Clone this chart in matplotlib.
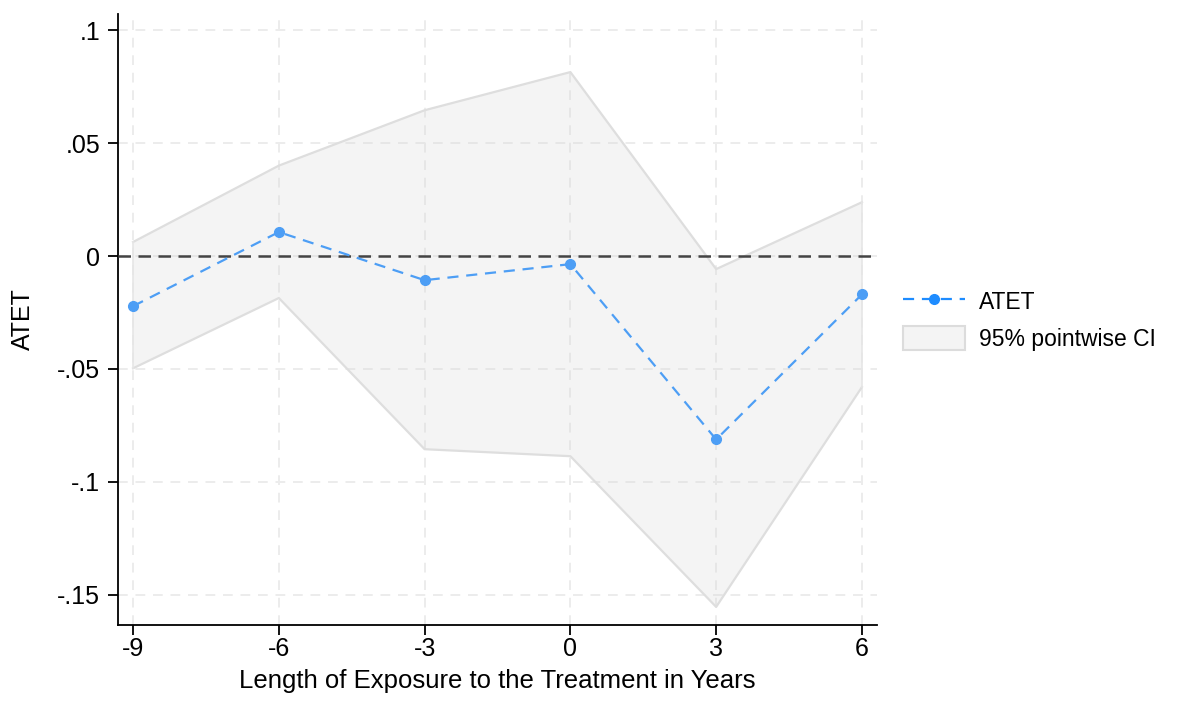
import matplotlib
matplotlib.use("Agg")
import matplotlib.pyplot as plt
from matplotlib.patches import Patch
from matplotlib.lines import Line2D

plt.rcParams['font.family'] = ['Liberation Sans', 'DejaVu Sans']

# data
years = [-9, -6, -3, 0, 3, 6]
atet = [-0.0222, 0.0106, -0.0107, -0.0036, -0.0812, -0.0170]
ci_hi = [0.0062, 0.0400, 0.0645, 0.0814, -0.0058, 0.0238]
ci_lo = [-0.0497, -0.0186, -0.0855, -0.0886, -0.1553, -0.0580]
yticks = [0.1, 0.05, 0, -0.05, -0.1, -0.15]
ylabels = ['.1', '.05', '0', '-.05', '-.1', '-.15']

fig = plt.figure(figsize=(11.8, 7.04), dpi=100)
ax = fig.add_axes([118/1180, 1 - 625/704, (877-118)/1180, (625-14)/704])

ax.fill_between(years, ci_lo, ci_hi, facecolor='#d8d8d8', alpha=0.28,
                edgecolor='none', zorder=2)
ax.plot(years, ci_hi, color='#dedede', lw=1.6, zorder=2.5)
ax.plot(years, ci_lo, color='#dedede', lw=1.6, zorder=2.5)
ax.plot([years[0]]*2, [ci_lo[0], ci_hi[0]], color='#e6e6e6', lw=1.2, zorder=2.5)
ax.plot([years[-1]]*2, [ci_lo[-1], ci_hi[-1]], color='#e6e6e6', lw=1.2, zorder=2.5)

ax.axhline(0, color='#444444', lw=1.8, ls=(0, (5, 3)), zorder=3)
ax.plot(years, atet, color='#4d9ef5', lw=1.6, ls=(0, (5, 3.5)),
        marker='o', ms=7, mec='#4d9ef5', mfc='#4d9ef5', zorder=4)

ax.set_xlim(-9.31, 6.31)
ax.set_ylim(-0.1633, 0.1071)
ax.set_xticks(years)
ax.set_xticklabels([str(y) for y in years])
ax.set_yticks(yticks)
ax.set_yticklabels(ylabels)
ax.grid(True, color='#ececec', lw=1.4, ls=(0, (5, 4)), zorder=0)
ax.set_axisbelow(True)

for s in ['top', 'right']:
    ax.spines[s].set_visible(False)
for s in ['left', 'bottom']:
    ax.spines[s].set_linewidth(1.3)
ax.tick_params(axis='both', length=7.2, width=1.3, labelsize=18)
ax.tick_params(axis='y', pad=5.5)
ax.tick_params(axis='x', pad=1.5)
ax.set_xlabel('Length of Exposure to the Treatment in Years', fontsize=18.5, labelpad=6)
ax.set_ylabel('ATET', fontsize=18, labelpad=16)

handles = [
    Line2D([], [], color='#1e8cff', lw=1.6, ls=(0, (5, 3.5)), marker='o', ms=7),
    Patch(facecolor='#f4f4f4', edgecolor='#dcdcdc', lw=1.5),
]
fig.legend(handles, ['ATET', '95% pointwise CI'], loc='center left',
           bbox_to_anchor=(882/1180, 1 - 320/704), frameon=False, fontsize=16.5,
           handlelength=2.7, handleheight=1.25, handletextpad=0.65, labelspacing=0.5)

fig.savefig('out.png', dpi=100, facecolor='white')
